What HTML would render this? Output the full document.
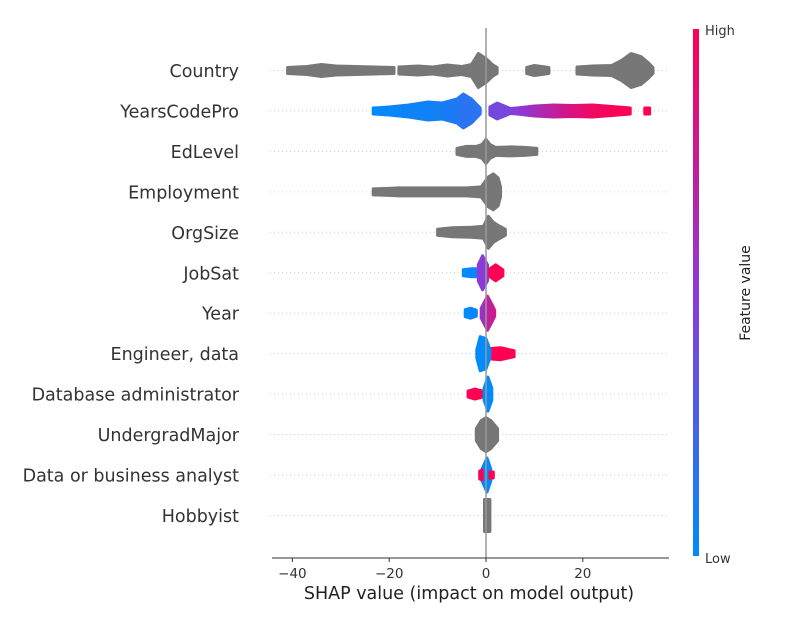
<!DOCTYPE html>
<html><head><meta charset="utf-8">
<style>
html,body{margin:0;padding:0;background:#fff;}
svg{display:block;font-family:"DejaVu Sans","Liberation Sans",sans-serif;}
</style></head>
<body>
<svg id="chart" width="800" height="620" viewBox="0 0 800 620" xmlns="http://www.w3.org/2000/svg">
<defs>
<linearGradient id="cbar" x1="0" y1="1" x2="0" y2="0">
<stop offset="0" stop-color="#008bfb"/><stop offset="0.5" stop-color="#8b3ad8"/><stop offset="1" stop-color="#ff0052"/>
</linearGradient>
</defs>
<g id="grid"></g>
<g id="marks"></g>
<line x1="486" y1="28" x2="486" y2="558" stroke="#999" stroke-width="1.5"/>
<g id="axis"></g>
<g id="ylabels"></g>
<rect x="693" y="29" width="6" height="527" fill="url(#cbar)"/>
<text x="705" y="35" font-size="13" fill="#333">High</text>
<text x="705" y="563" font-size="13" fill="#333">Low</text>
<text x="750" y="293" font-size="14" fill="#222" text-anchor="middle" transform="rotate(-90 750 293)">Feature value</text>
<text x="469" y="599" font-size="17.5" fill="#222" text-anchor="middle">SHAP value (impact on model output)</text>
</svg>
<script>
const features = ["Country","YearsCodePro","EdLevel","Employment","OrgSize","JobSat","Year","Engineer, data","Database administrator","UndergradMajor","Data or business analyst","Hobbyist"];
const xTicks = [-40,-20,0,20];
// Each row: parts; each part: knots [shapValue, halfHeightOfSwarm, featureValue(0..1) or null]
const rowCountry = [
 [[-41,3,null],[-37,4,null],[-34,6,null],[-31,4.5,null],[-27,4,null],[-23,3.5,null],[-19,3,null]],
 [[-18,3.5,null],[-14,4.5,null],[-11,3.5,null],[-8,5.5,null],[-5,4,null],[-3,6,null],[-1.6,17,null],[0,12,null],[1.3,6,null],[2.3,3,null]],
 [[8.4,3,null],[10,5,null],[11.5,4,null],[13,3,null]],
 [[18.8,3.5,null],[22,4.5,null],[26,5,null],[28,10,null],[30,17,null],[32,14,null],[33.5,8,null],[34.5,3,null]]
];
const rowYearsCodePro = [
 [[-23.3,3,0],[-20,4,0.02],[-16,6,0.05],[-12,9,0.06],[-9,8,0.08],[-6,12,0.12],[-4.7,17,0.15],[-3,12,0.15],[-1.2,3,0.15]],
 [[0.8,4,0.4],[2.3,8,0.42],[3.8,5,0.42],[5,2.5,0.45],[6.4,3,0.5]],
 [[6.4,3,0.5],[10,5,0.6],[14,6,0.72],[18,5.5,0.85],[22,6,0.93],[26,4.5,0.97],[29.8,3,1]],
 [[32.8,3,1],[33.8,3,1]]
];
const rowEdLevel = [[[-6,3,null],[-4,5,null],[-2,5,null],[-0.8,7,null],[0,12,null],[0.8,7,null],[2,4,null],[5,4.5,null],[8,4,null],[10.5,3,null]]];
const rowEmployment = [[[-23.3,3,null],[-20,3.5,null],[-18,4,null],[-10,4,null],[-4,4,null],[-1,5,null],[0.5,15,null],[1.5,18,null],[2.5,14,null],[3,5,null]]];
const rowOrgSize = [[[-10,3,null],[-7,4.5,null],[-3,5,null],[-0.5,6,null],[0.5,16,null],[1.5,10,null],[2.5,7,null],[4,3,null]]];
const rowJobSat = [
 [[-4.7,3,0],[-3,4,0.02],[-1.8,4,0.05]],
 [[-1.6,8,0.5],[-0.7,17,0.5],[0.3,8,0.5]],
 [[0.8,4,1],[2,8,1],[3.5,3,1]]
];
const rowYear = [
 [[-4.3,3.5,0],[-3.2,5,0],[-2,3,0.05]],
 [[-1,5,0.55],[0.3,17,0.7],[1.3,8,0.75],[1.8,3,0.8]]
];
const rowEngineer = [
 [[0.6,5,1],[3,6,1],[5.8,3,1]],
 [[-1.9,4,0],[-1.2,17,0],[0,15,0],[0.8,4,0]]
];
const rowDBA = [
 [[-3.7,3,1],[-2.3,5,1],[-0.7,3,1]],
 [[-0.4,6,0],[0.4,17,0],[1.2,6,0]]
];
const rowUndergrad = [[[-2,6,null],[-1,14,null],[0,17,null],[1,14,null],[2.4,6,null]]];
const rowAnalyst = [
 [[-0.8,6,0],[0.2,17,0],[1,6,0]],
 [[-1.3,4,1],[-0.8,5,1]],
 [[0.8,3,1],[1.5,3,1]]
];
const rowHobbyist = [[[-0.3,16,null],[0.8,16,null]]];
const rows = [rowCountry,rowYearsCodePro,rowEdLevel,rowEmployment,rowOrgSize,rowJobSat,rowYear,rowEngineer,rowDBA,rowUndergrad,rowAnalyst,rowHobbyist];

const NS="http://www.w3.org/2000/svg";
const X = v => 486 + v*4.84;
const Y = i => 70.5 + i*40.45;
function cmap(t){
  const a=[0,139,251], m=[139,58,216], b=[255,0,82];
  let c;
  if(t<0.5){const k=t/0.5;c=a.map((v,j)=>v+(m[j]-v)*k);} else {const k=(t-0.5)/0.5;c=m.map((v,j)=>v+(b[j]-v)*k);}
  return "rgb("+c.map(Math.round).join(",")+")";
}
const svg=document.getElementById("chart");
const defs=svg.querySelector("defs");
const grid=document.getElementById("grid");
const marks=document.getElementById("marks");
const axis=document.getElementById("axis");
const ylab=document.getElementById("ylabels");
function mk(tag,attrs,parent){const e=document.createElementNS(NS,tag);for(const k in attrs)e.setAttribute(k,attrs[k]);parent.appendChild(e);return e;}

features.forEach((f,i)=>{
  const g=mk("line",{x1:270,x2:669,y1:Y(i),y2:Y(i),stroke:"#ccc","stroke-width":1,"stroke-dasharray":"1,3"},grid);
  
  
  const t=mk("text",{x:239,y:Y(i)+6.5,"font-size":17.5,fill:"#333","text-anchor":"end"},ylab);
  t.textContent=f;
  
  
});

let gid=0;
rows.forEach((parts,i)=>{
  const cy=Y(i);
  parts.forEach(part=>{
    let fill="#777";
    if(part[0][2]!==null){
      const id="g"+(gid++);
      const lg=mk("linearGradient",{id:id,gradientUnits:"userSpaceOnUse",x1:X(part[0][0]),x2:X(part[part.length-1][0])+0.01,y1:0,y2:0},defs);
      const x0=part[0][0], x1=part[part.length-1][0], span=(x1-x0)||1;
      part.forEach(k=>mk("stop",{offset:((k[0]-x0)/span).toFixed(3),"stop-color":cmap(k[2])},lg));
      fill="url(#"+id+")";
    }
    const top=part.map(k=>X(k[0]).toFixed(1)+","+(cy-k[1]).toFixed(1));
    const bot=part.slice().reverse().map(k=>X(k[0]).toFixed(1)+","+(cy+k[1]).toFixed(1));
    const p=mk("polygon",{points:top.concat(bot).join(" "),fill:fill,stroke:fill,"stroke-width":3,"stroke-linejoin":"round"},marks);
    
    
  });
});

const sp=mk("line",{x1:272,x2:669,y1:558,y2:558,stroke:"#333","stroke-width":1},axis);


xTicks.forEach(v=>{
  const tk=mk("line",{x1:X(v),x2:X(v),y1:558,y2:562,stroke:"#333","stroke-width":1},axis);
  
  
  const t=mk("text",{x:X(v),y:578,"font-size":13.5,fill:"#333","text-anchor":"middle"},axis);
  t.textContent=v<0?"\u2212"+Math.abs(v):String(v);
  
  
});
</script>
</body></html>
